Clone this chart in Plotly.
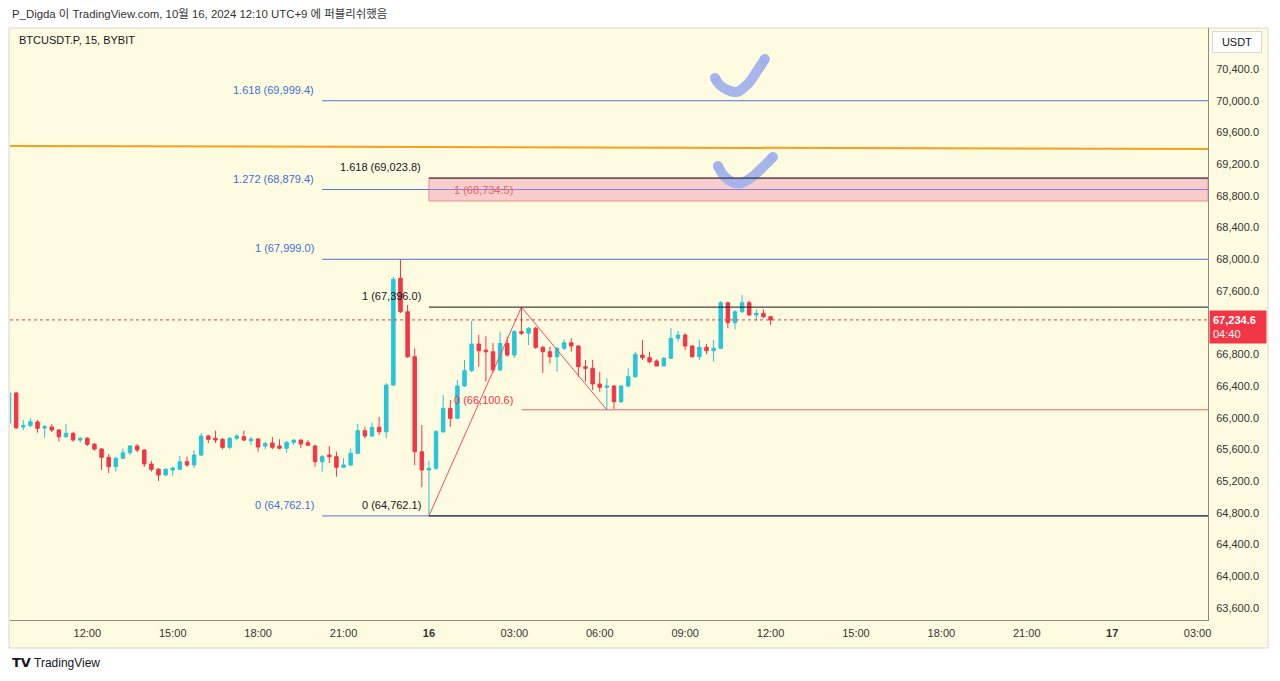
import pandas as pd
import plotly.graph_objects as go

# ---------------- data (BTCUSDT.P, 15m, BYBIT) ----------------
bar_start = "2024-10-15 09:15"
opens = [65934, 66312, 65884, 65902, 65947, 65871, 65884, 65846, 65761, 65804,
         65719, 65741, 65665, 65606, 65501, 65383, 65489, 65559, 65644, 65593,
         65417, 65350, 65278, 65341, 65350, 65446, 65404, 65530, 65770, 65741,
         65728, 65627, 65741, 65761, 65711, 65732, 65644, 65682, 65644, 65615,
         65690, 65719, 65685, 65644, 65446, 65530, 65509, 65375, 65404, 65552,
         65837, 65770, 65880, 65824, 66413, 67760, 67338, 66770, 65572, 65341,
         65362, 65824, 66119, 65993, 66401, 66594, 66931, 66855, 66833, 66603,
         66939, 66792, 67086, 67066, 67129, 66889, 66833, 66770, 66876, 66947,
         66905, 66644, 66624, 66426, 66384, 66401, 66203, 66401, 66518, 66792,
         66758, 66716, 66653, 66750, 67003, 67044, 66905, 66770, 66889, 66846,
         66876, 67452, 67199, 67338, 67452, 67297, 67318, 67275]
highs = [66338, 66325, 65972, 65997, 65972, 65909, 65921, 65858, 65921, 65824,
         65757, 65757, 65685, 65619, 65543, 65509, 65615, 65656, 65669, 65606,
         65458, 65366, 65366, 65379, 65518, 65509, 65593, 65808, 65783, 65837,
         65745, 65757, 65795, 65837, 65757, 65745, 65698, 65757, 65728, 65707,
         65728, 65728, 65719, 65660, 65530, 65644, 65572, 65492, 65615, 65921,
         65887, 65938, 66013, 66439, 67780, 67999, 67423, 66876, 65909, 65458,
         65846, 66287, 66224, 66476, 66729, 67225, 67044, 67031, 66943, 67086,
         67023, 67107, 67396, 67145, 67149, 66905, 66897, 66897, 66990, 67003,
         66918, 66729, 66729, 66581, 66498, 66413, 66413, 66624, 66833, 66981,
         66833, 66738, 66770, 67129, 67098, 67066, 66918, 66981, 66931, 66981,
         67473, 67464, 67360, 67549, 67477, 67368, 67368, 67284]
lows = [65909, 65858, 65846, 65884, 65812, 65745, 65820, 65698, 65751, 65698,
        65685, 65644, 65584, 65341, 65303, 65320, 65480, 65530, 65568, 65379,
        65320, 65202, 65265, 65269, 65341, 65383, 65366, 65518, 65682, 65682,
        65602, 65602, 65719, 65707, 65656, 65572, 65602, 65602, 65602, 65559,
        65656, 65619, 65644, 65383, 65320, 65429, 65256, 65366, 65391, 65543,
        65741, 65757, 65783, 65741, 66401, 67322, 66754, 65404, 65123, 64762.1,
        65341, 65808, 65887, 65984, 66388, 66577, 66644, 66455, 66565, 66590,
        66770, 66754, 67044, 66918, 66868, 66565, 66687, 66581, 66855, 66833,
        66518, 66455, 66350, 66329, 66100.6, 66110, 66186, 66388, 66504, 66729,
        66687, 66653, 66653, 66741, 66960, 66855, 66760, 66729, 66804, 66707,
        66868, 67129, 67116, 67322, 67284, 67225, 67255, 67170]
closes = [66312, 65875, 65902, 65950, 65867, 65887, 65846, 65761, 65804, 65719,
          65741, 65665, 65606, 65501, 65383, 65489, 65559, 65644, 65593, 65417,
          65350, 65278, 65350, 65366, 65446, 65404, 65530, 65770, 65728, 65719,
          65627, 65741, 65770, 65719, 65732, 65631, 65675, 65627, 65615, 65690,
          65719, 65669, 65653, 65446, 65509, 65509, 65375, 65404, 65552, 65837,
          65770, 65880, 65824, 66413, 67747, 67338, 66770, 65572, 65341, 65362,
          65824, 66119, 65993, 66401, 66594, 66931, 66846, 66833, 66603, 66939,
          66792, 67086, 67066, 67129, 66889, 66833, 66770, 66876, 66947, 66905,
          66644, 66624, 66426, 66384, 66401, 66203, 66401, 66518, 66801, 66758,
          66707, 66653, 66750, 67003, 67044, 66905, 66770, 66889, 66846, 66876,
          67452, 67199, 67338, 67452, 67297, 67318, 67275, 67234.6]

last_price = 67234.6
countdown = "04:40"

# Fib retracement (blue)
fibA_start = "2024-10-15 20:15"
fibA_labels = ["1.618 (69,999.4)", "1.272 (68,879.4)", "1 (67,999.0)", "0 (64,762.1)"]
fibA_prices = [69999.4, 68879.4, 67999.0, 64762.1]
# Fib (black)
fibB_start = "2024-10-16 00:00"
fibB_labels = ["1.618 (69,023.8)", "1 (67,396.0)", "0 (64,762.1)"]
fibB_prices = [69023.8, 67396.0, 64762.1]
# Trend-based fib extension (red)
fibC_start = "2024-10-16 03:15"
fibC_labels = ["1 (68,734.5)", "0 (66,100.6)"]
fibC_prices = [68734.5, 66100.6]
zig_times = ["2024-10-16 00:00", "2024-10-16 03:15", "2024-10-16 06:15"]
zig_prices = [64762.1, 67396.0, 66100.6]
# Orange trend line
orange_prices = [69430, 69390]
# Hand-drawn check marks
check1_times = ["2024-10-16 10:03", "2024-10-16 10:13", "2024-10-16 10:30", "2024-10-16 10:49",
                "2024-10-16 11:12", "2024-10-16 11:33", "2024-10-16 11:48"]
check1_prices = [70286, 70198, 70135, 70110, 70211, 70387, 70526]
check2_times = ["2024-10-16 10:09", "2024-10-16 10:22", "2024-10-16 10:39", "2024-10-16 10:58",
                "2024-10-16 11:21", "2024-10-16 11:46", "2024-10-16 12:05"]
check2_prices = [69176, 69050, 68974, 68962, 69037, 69176, 69290]

tick_times = ["2024-10-15 12:00", "2024-10-15 15:00", "2024-10-15 18:00", "2024-10-15 21:00",
              "2024-10-16 00:00", "2024-10-16 03:00", "2024-10-16 06:00", "2024-10-16 09:00",
              "2024-10-16 12:00", "2024-10-16 15:00", "2024-10-16 18:00", "2024-10-16 21:00",
              "2024-10-17 00:00", "2024-10-17 03:00"]
tick_labels = ["12:00", "15:00", "18:00", "21:00", "<b>16</b>", "03:00", "06:00", "09:00",
               "12:00", "15:00", "18:00", "21:00", "<b>17</b>", "03:00"]
# price axis labels (67,200 hidden under the live price tag)
price_ticks = [63600, 64000, 64400, 64800, 65200, 65600, 66000, 66400, 66800,
               67600, 68000, 68400, 68800, 69200, 69600, 70000, 70400]

x_range = ["2024-10-15 09:17", "2024-10-17 03:22"]
y_range = [63449, 70917]

# ---------------- styling ----------------
UP = "#26c6da"
DOWN = "#f23645"
BG = "#fffbe1"
BLUE = "#4f73d6"
BLUE_TXT = "#3d6fd8"
CHECK = "rgba(158,176,236,0.92)"
FONT = "Liberation Sans, Arial, Noto Sans CJK KR, sans-serif"

times = pd.date_range(bar_start, periods=len(opens), freq="15min")

fig = go.Figure()
fig.add_trace(go.Candlestick(
    x=times, open=opens, high=highs, low=lows, close=closes,
    increasing=dict(line=dict(color=UP, width=1), fillcolor=UP),
    decreasing=dict(line=dict(color=DOWN, width=1), fillcolor=DOWN),
    whiskerwidth=0, hoverinfo="skip", showlegend=False,
))

shapes = []
# chart frame background (including axes area)
shapes.append(dict(type="rect", xref="paper", yref="paper", x0=-0.0008, x1=1.0501,
                   y0=-0.0473, y1=1.0, fillcolor=BG, line=dict(color="#d6d6d0", width=1),
                   layer="below"))
# pink zone of red fib (1 -> black 1.618), beneath the hand-drawn marks
shapes.append(dict(type="rect", xref="x", yref="y", x0=fibB_start, x1=x_range[1],
                   y0=fibC_prices[0], y1=fibB_prices[0], layer="below",
                   fillcolor="#f8cdcc", line=dict(color="#ee8d94", width=1)))

# blue fib lines
for p in fibA_prices:
    shapes.append(dict(type="line", xref="x", yref="y", x0=fibA_start, x1=x_range[1],
                       y0=p, y1=p, line=dict(color=BLUE, width=1)))
shapes.append(dict(type="line", xref="x", yref="y", x0=fibB_start, x1=x_range[1],
                   y0=fibA_prices[1], y1=fibA_prices[1], line=dict(color="#8a84d6", width=1)))
# black fib lines
for p in fibB_prices:
    shapes.append(dict(type="line", xref="x", yref="y", x0=fibB_start, x1=x_range[1],
                       y0=p, y1=p, line=dict(color="#131722", width=1)))
# red 0 line
shapes.append(dict(type="line", xref="x", yref="y", x0=fibC_start, x1=x_range[1],
                   y0=fibC_prices[1], y1=fibC_prices[1], line=dict(color="#f0606c", width=1)))
# orange trend line
shapes.append(dict(type="line", xref="x", yref="y", x0=x_range[0], x1=x_range[1],
                   y0=orange_prices[0], y1=orange_prices[1], line=dict(color="#f5a11f", width=2)))
# current price dotted line
shapes.append(dict(type="line", xref="x", yref="y", x0=x_range[0], x1=x_range[1],
                   y0=last_price, y1=last_price, line=dict(color=DOWN, width=1, dash="dot")))

fig.update_layout(shapes=shapes)

# red zigzag
fig.add_trace(go.Scatter(x=zig_times, y=zig_prices, mode="lines",
                         line=dict(color="#f0505e", width=1), hoverinfo="skip", showlegend=False))

# check marks
for ct, cp in ((check1_times, check1_prices), (check2_times, check2_prices)):
    fig.add_trace(go.Scatter(x=ct, y=cp, mode="lines", line=dict(color=CHECK, width=10, shape="spline"),
                             hoverinfo="skip", showlegend=False))
    fig.add_trace(go.Scatter(x=[ct[0], ct[-1]], y=[cp[0], cp[-1]], mode="markers",
                             marker=dict(color=CHECK, size=10),
                             hoverinfo="skip", showlegend=False))

ann = []
for lab, p in zip(fibA_labels, fibA_prices):
    ann.append(dict(x=fibA_start, y=p, xref="x", yref="y", text=lab, showarrow=False,
                    xanchor="right", yanchor="middle", xshift=-6, yshift=11,
                    font=dict(color=BLUE_TXT, size=11, family=FONT)))
for lab, p in zip(fibB_labels, fibB_prices):
    ann.append(dict(x=fibB_start, y=p, xref="x", yref="y", text=lab, showarrow=False,
                    xanchor="right", yanchor="middle", xshift=-6, yshift=11,
                    font=dict(color="#131722", size=11, family=FONT)))
ann.append(dict(x=fibC_start, y=fibC_prices[0], xref="x", yref="y", text=fibC_labels[0], showarrow=False,
                xanchor="right", yanchor="middle", xshift=-6, yshift=11,
                font=dict(color="#e8646f", size=11, family=FONT)))
ann.append(dict(x=fibC_start, y=fibC_prices[1], xref="x", yref="y", text=fibC_labels[1], showarrow=False,
                xanchor="right", yanchor="middle", xshift=-6, yshift=10,
                font=dict(color="#f23645", size=11, family=FONT)))
# price label on axis
ann.append(dict(x=1, y=last_price, xref="paper", yref="y",
                text="<b>67,234.6</b><br>" + countdown, showarrow=False, align="left",
                xanchor="left", yanchor="middle", yshift=-7, xshift=1, width=50,
                bgcolor=DOWN, borderpad=3, font=dict(color="white", size=11, family=FONT)))
# USDT box
ann.append(dict(x=1.0242, y=0.977, xref="paper", yref="paper", text="USDT", showarrow=False,
                xanchor="center", yanchor="middle", bgcolor="white", bordercolor="#d8d8d8",
                borderwidth=1, borderpad=4, width=40,
                font=dict(color="#131722", size=11, family=FONT)))
# symbol title
ann.append(dict(x=0.0058, y=0.98, xref="paper", yref="paper", text="BTCUSDT.P, 15, BYBIT",
                showarrow=False, xanchor="left", yanchor="middle",
                font=dict(color="#131722", size=11, family=FONT)))
# header
ann.append(dict(x=0, y=1.0236, xref="paper", yref="paper",
                text="P_Digda 이 TradingView.com, 10월 16, 2024 12:10 UTC+9 에 퍼블리쉬했음",
                showarrow=False, xanchor="left", yanchor="middle",
                font=dict(color="#333333", size=11.4, family=FONT)))
# TradingView logo
ann.append(dict(x=0, y=-0.0726, xref="paper", yref="paper", text="<b>TV</b>",
                showarrow=False, xanchor="left", yanchor="middle",
                font=dict(color="#131722", size=13, family="DejaVu Sans, sans-serif")))
ann.append(dict(x=0.0185, y=-0.0726, xref="paper", yref="paper", text="TradingView",
                showarrow=False, xanchor="left", yanchor="middle",
                font=dict(color="#131722", size=12, family=FONT)))

# The page body has an 8px default margin, so the figure is sized/margined to compensate.
fig.update_layout(
    annotations=ann,
    width=1272, height=673,
    margin=dict(l=2, r=72, t=20, b=61),
    paper_bgcolor="white",
    plot_bgcolor=BG,
    hovermode=False,
    showlegend=False,
    font=dict(family=FONT, size=11, color="#333333"),
    xaxis=dict(range=x_range, rangeslider=dict(visible=False), showgrid=False, zeroline=False,
               tickmode="array", tickvals=tick_times, ticktext=tick_labels,
               showline=True, linecolor="#8c8c84", linewidth=1, ticks="", ticklabelstandoff=3,
               tickfont=dict(size=11, color="#333333", family=FONT)),
    yaxis=dict(range=y_range, side="right", showgrid=False, zeroline=False,
               tickmode="array", tickvals=price_ticks, tickformat=",.1f", ticks="",
               showline=True, linecolor="#8c8c84", linewidth=1, ticklabelstandoff=5,
               tickfont=dict(size=11, color="#333333", family=FONT)),
)

fig.write_html("out.html", config={"displayModeBar": False})
